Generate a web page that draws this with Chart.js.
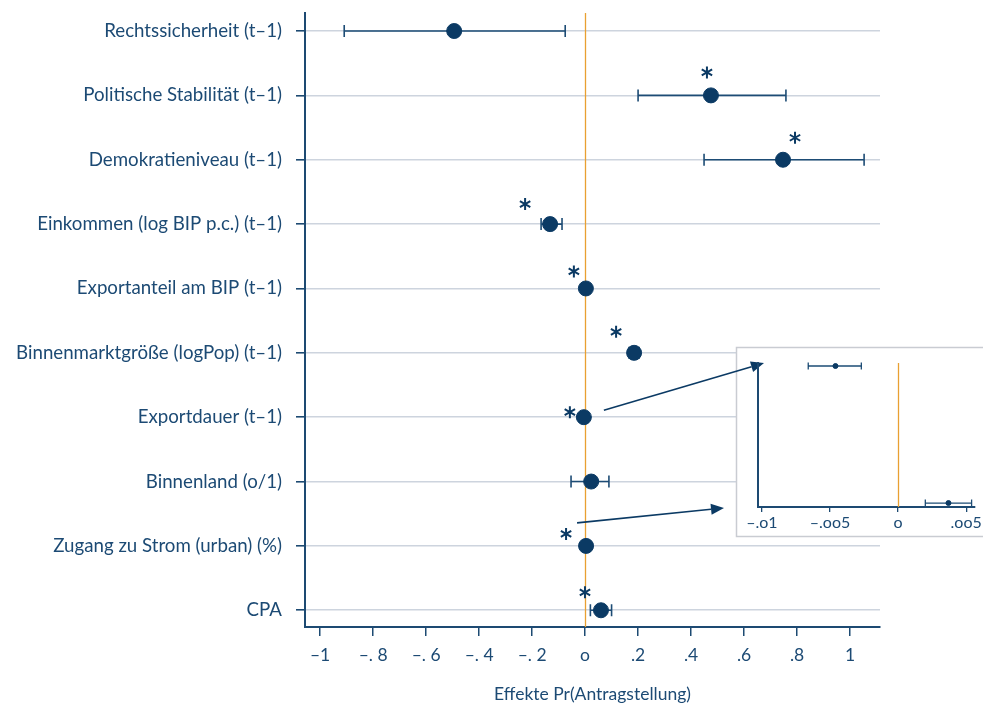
<!DOCTYPE html>
<html>
<head>
<meta charset="utf-8">
<script src="https://cdn.jsdelivr.net/npm/chart.js@4"></script>
<style>
  body { margin: 0; background: #fff; }
  #wrap { position: relative; width: 983px; height: 709px; }
  #inset { position: absolute; left: 736px; top: 347px; }
</style>
</head>
<body>
<div id="wrap">
  <canvas id="mainChart" width="983" height="709"></canvas>
  <canvas id="inset" width="247" height="190"></canvas>
</div>
<script>
const categories = [
  'Rechtssicherheit (t–1)',
  'Politische Stabilität (t–1)',
  'Demokratieniveau (t–1)',
  'Einkommen (log BIP p.c.) (t–1)',
  'Exportanteil am BIP (t–1)',
  'Binnenmarktgröße (logPop) (t–1)',
  'Exportdauer (t–1)',
  'Binnenland (o/1)',
  'Zugang zu Strom (urban) (%)',
  'CPA'
];
const estimates = [-0.494, 0.475, 0.747, -0.132, 0.003, 0.185, -0.0046, 0.023, 0.0037, 0.06];
const ciLow     = [-0.909, 0.200, 0.449, -0.166, 0.001, 0.166, -0.0066, -0.053, 0.002, 0.02];
const ciHigh    = [-0.075, 0.758, 1.053, -0.087, 0.005, 0.204, -0.0027, 0.090, 0.0054, 0.10];
const significant = [false, true, true, true, true, true, true, false, true, true];

const xTickValues = [-1, -0.8, -0.6, -0.4, -0.2, 0, 0.2, 0.4, 0.6, 0.8, 1];
const xTickLabels = ['–1', '–. 8', '–. 6', '–. 4', '–. 2', 'o', '.2', '.4', '.6', '.8', '1'];

// zoomed inset: the two coefficients too small to see in the main plot
const insetEstimates = [-0.0046, 0.0037];
const insetLow  = [-0.0066, 0.0020];
const insetHigh = [-0.0027, 0.0054];
const insetTickValues = [-0.01, -0.005, 0, 0.005];
const insetTickLabels = ['–.o1', '–.oo5', 'o', '.oo5'];

const NAVY = '#0b3a64';
const TEXT = '#1c4a74';
const GRID = '#cdd4de';
const ORANGE = '#e9a032';
const FONT = 'Lato, "Open Sans", sans-serif';

// star offsets from the point (pixels), per row
const starOffsets = [null, [-4, -23], [12, -22], [-25, -20], [-12, -17], [-18, -21], [-14, -5], null, [-20, -12], [-16, -18]];

const errorBars = {
  id: 'errorBars',
  beforeDatasetsDraw(chart, args, opts) {
    const { ctx, scales: { x, y } } = chart;
    const pts = chart.data.datasets[0].data;
    ctx.save();
    ctx.strokeStyle = opts.color;
    ctx.lineWidth = opts.lineWidth;
    pts.forEach((p, i) => {
      const yy = y.getPixelForValue(p.y);
      const x1 = x.getPixelForValue(opts.low[i]);
      const x2 = x.getPixelForValue(opts.high[i]);
      ctx.beginPath();
      ctx.moveTo(x1, yy); ctx.lineTo(x2, yy);
      ctx.moveTo(x1, yy - opts.cap); ctx.lineTo(x1, yy + opts.cap);
      ctx.moveTo(x2, yy - opts.cap); ctx.lineTo(x2, yy + opts.cap);
      ctx.stroke();
    });
    ctx.restore();
  }
};

const zeroLine = {
  id: 'zeroLine',
  beforeDatasetsDraw(chart) {
    const { ctx, chartArea, scales: { x } } = chart;
    const px = Math.round(x.getPixelForValue(0)) + 0.5;
    ctx.save();
    ctx.strokeStyle = ORANGE;
    ctx.lineWidth = 1.3;
    ctx.beginPath();
    ctx.moveTo(px, chartArea.top);
    ctx.lineTo(px, chartArea.bottom);
    ctx.stroke();
    ctx.restore();
  }
};

// significance asterisks, drawn as three crossing strokes
const stars = {
  id: 'stars',
  afterDatasetsDraw(chart) {
    const { ctx, scales: { x, y } } = chart;
    ctx.save();
    ctx.strokeStyle = NAVY;
    ctx.lineWidth = 2;
    const r = 6;
    estimates.forEach((v, i) => {
      if (!significant[i]) return;
      const cx = x.getPixelForValue(v) + starOffsets[i][0];
      const cy = y.getPixelForValue(i) + starOffsets[i][1];
      ctx.beginPath();
      [90, 30, 150].forEach(deg => {
        const a = deg * Math.PI / 180;
        ctx.moveTo(cx - r * Math.cos(a), cy - r * Math.sin(a));
        ctx.lineTo(cx + r * Math.cos(a), cy + r * Math.sin(a));
      });
      ctx.stroke();
    });
    ctx.restore();
  }
};

function arrow(ctx, x1, y1, x2, y2) {
  const a = Math.atan2(y2 - y1, x2 - x1);
  const len = 13, w = 5.5;
  ctx.beginPath();
  ctx.moveTo(x1, y1);
  ctx.lineTo(x2 - len * Math.cos(a), y2 - len * Math.sin(a));
  ctx.stroke();
  ctx.beginPath();
  ctx.moveTo(x2, y2);
  ctx.lineTo(x2 - len * Math.cos(a) + w * Math.sin(a), y2 - len * Math.sin(a) - w * Math.cos(a));
  ctx.lineTo(x2 - len * Math.cos(a) - w * Math.sin(a), y2 - len * Math.sin(a) + w * Math.cos(a));
  ctx.closePath();
  ctx.fill();
}

// white box behind the inset canvas, and arrows pointing into it
const insetFrame = {
  id: 'insetFrame',
  afterDraw(chart) {
    const { ctx, scales: { x, y } } = chart;
    ctx.save();
    ctx.fillStyle = '#fff';
    ctx.strokeStyle = '#c9ccd2';
    ctx.lineWidth = 1.5;
    ctx.fillRect(736, 347, 247, 190);
    ctx.strokeRect(736.5, 347.5, 250, 189);
    ctx.strokeStyle = NAVY;
    ctx.fillStyle = NAVY;
    ctx.lineWidth = 1.6;
    const a = [x.getPixelForValue(estimates[6]) + 20, y.getPixelForValue(6) - 7];
    arrow(ctx, a[0], a[1], 764, 363);
    const b = [x.getPixelForValue(estimates[8]) - 9, y.getPixelForValue(8) - 23];
    arrow(ctx, b[0], b[1], 724, 508);
    ctx.restore();
  }
};

function noPad(axis) {
  axis.paddingTop = 0;
  axis.paddingBottom = 0;
}

new Chart(document.getElementById('mainChart'), {
  type: 'scatter',
  data: {
    datasets: [{
      data: estimates.map((v, i) => ({ x: v, y: i })),
      backgroundColor: NAVY,
      borderColor: NAVY,
      pointRadius: 7.5,
      pointHoverRadius: 7.5
    }]
  },
  options: {
    responsive: false,
    devicePixelRatio: 1,
    animation: false,
    layout: { padding: { top: 13, right: 103, left: 0, bottom: 0 } },
    plugins: {
      legend: { display: false },
      tooltip: { enabled: false },
      errorBars: { low: ciLow, high: ciHigh, color: '#1d4c75', lineWidth: 1.6, cap: 6 }
    },
    scales: {
      x: {
        type: 'linear',
        min: -1.057,
        max: 1.113,
        afterBuildTicks: (axis) => { axis.ticks = xTickValues.map(v => ({ value: v })); },
        afterFit: (axis) => { axis.height = 82; },
        ticks: {
          color: TEXT,
          font: { family: FONT, size: 17.5 },
          padding: 9,
          maxRotation: 0,
          callback: (v, i) => xTickLabels[i]
        },
        grid: { drawOnChartArea: false, tickLength: 9, tickColor: '#1d4a72', lineWidth: 1.5 },
        border: { color: '#1d4a72', width: 2 },
        title: {
          display: true,
          text: 'Effekte Pr(Antragstellung)',
          color: TEXT,
          font: { family: FONT, size: 17.5 },
          padding: { top: 16 }
        }
      },
      y: {
        type: 'linear',
        reverse: true,
        min: -0.28,
        max: 9.26,
        afterBuildTicks: (axis) => { axis.ticks = categories.map((_, i) => ({ value: i })); },
        afterFit: (axis) => { axis.width = 305; noPad(axis); },
        ticks: {
          color: TEXT,
          font: { family: FONT, size: 18.7 },
          padding: 14,
          callback: (v) => categories[v]
        },
        grid: { color: GRID, lineWidth: 1.6, tickLength: 9, tickColor: '#1d4a72' },
        border: { color: '#1d4a72', width: 2 }
      }
    }
  },
  plugins: [zeroLine, errorBars, stars, insetFrame]
});

new Chart(document.getElementById('inset'), {
  type: 'scatter',
  data: {
    datasets: [{
      data: insetEstimates.map((v, i) => ({ x: v, y: i })),
      backgroundColor: NAVY,
      borderColor: NAVY,
      pointRadius: 2.5,
      pointHoverRadius: 2.5
    }]
  },
  options: {
    responsive: false,
    devicePixelRatio: 1,
    animation: false,
    layout: { padding: { top: 16, right: 6, left: 0, bottom: 0 } },
    plugins: {
      legend: { display: false },
      tooltip: { enabled: false },
      errorBars: { low: insetLow, high: insetHigh, color: '#1d4c75', lineWidth: 1.3, cap: 3.5 }
    },
    scales: {
      x: {
        type: 'linear',
        min: -0.01029,
        max: 0.00565,
        afterBuildTicks: (axis) => { axis.ticks = insetTickValues.map(v => ({ value: v })); },
        afterFit: (axis) => { axis.height = 30; },
        ticks: {
          color: TEXT,
          font: { family: FONT, size: 16 },
          padding: 1,
          maxRotation: 0,
          callback: (v, i) => insetTickLabels[i]
        },
        grid: { drawOnChartArea: false, tickLength: 5, tickColor: '#1d4a72', lineWidth: 1.3 },
        border: { color: '#1d4a72', width: 2 }
      },
      y: {
        type: 'linear',
        reverse: true,
        min: -0.022,
        max: 1.029,
        afterFit: (axis) => { axis.width = 22; noPad(axis); },
        ticks: { display: false },
        grid: { drawOnChartArea: false, drawTicks: false },
        border: { color: '#1d4a72', width: 2 }
      }
    }
  },
  plugins: [zeroLine, errorBars]
});
</script>
</body>
</html>
